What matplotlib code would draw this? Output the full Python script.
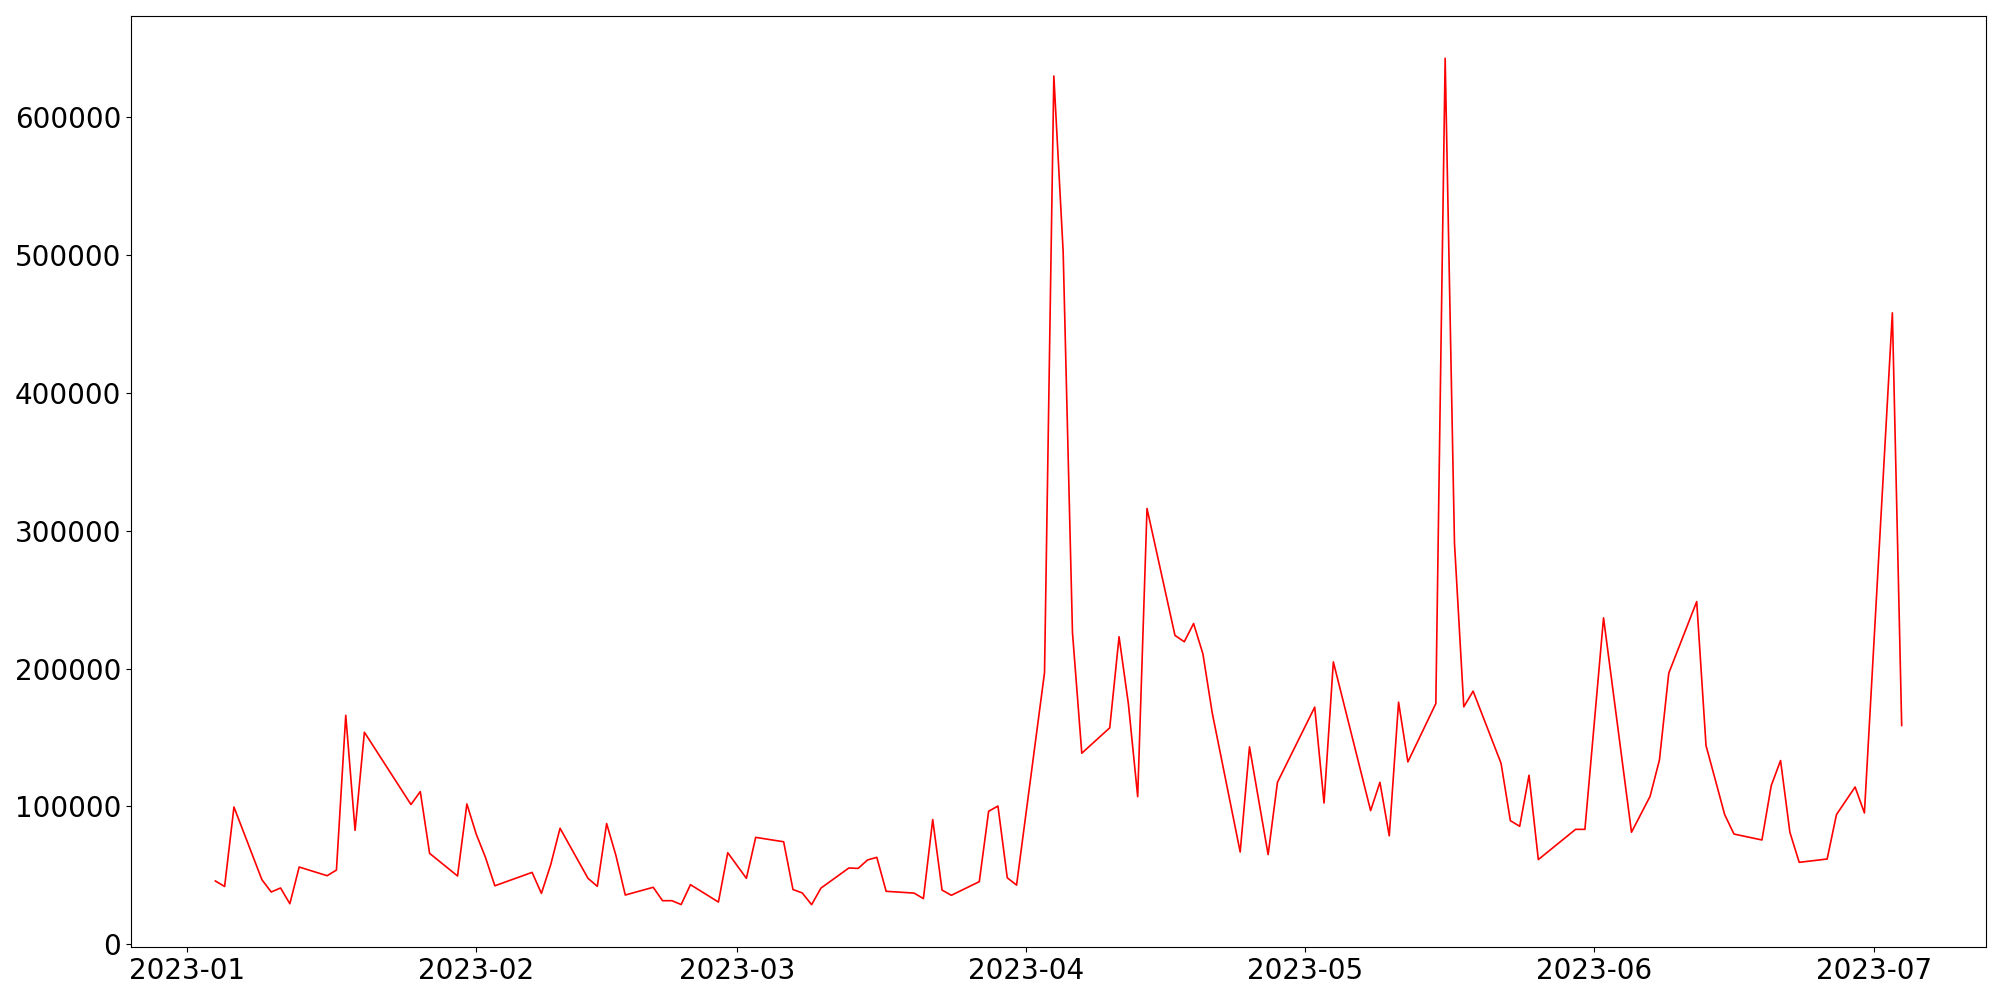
import matplotlib
matplotlib.use("Agg")
import matplotlib.pyplot as plt
import pandas as pd

dates = [
    "2023-01-04", "2023-01-05", "2023-01-06",
    "2023-01-09", "2023-01-10", "2023-01-11", "2023-01-12", "2023-01-13",
    "2023-01-16", "2023-01-17", "2023-01-18", "2023-01-19", "2023-01-20",
    "2023-01-25", "2023-01-26", "2023-01-27",
    "2023-01-30", "2023-01-31", "2023-02-01", "2023-02-02", "2023-02-03",
    "2023-02-07", "2023-02-08", "2023-02-09", "2023-02-10",
    "2023-02-13", "2023-02-14", "2023-02-15", "2023-02-16", "2023-02-17",
    "2023-02-20", "2023-02-21", "2023-02-22", "2023-02-23", "2023-02-24",
    "2023-02-27", "2023-02-28", "2023-03-02", "2023-03-03",
    "2023-03-06", "2023-03-07", "2023-03-08", "2023-03-09", "2023-03-10",
    "2023-03-13", "2023-03-14", "2023-03-15", "2023-03-16", "2023-03-17",
    "2023-03-20", "2023-03-21", "2023-03-22", "2023-03-23", "2023-03-24",
    "2023-03-27", "2023-03-28", "2023-03-29", "2023-03-30", "2023-03-31",
    "2023-04-03", "2023-04-04", "2023-04-05", "2023-04-06", "2023-04-07",
    "2023-04-10", "2023-04-11", "2023-04-12", "2023-04-13", "2023-04-14",
    "2023-04-17", "2023-04-18", "2023-04-19", "2023-04-20", "2023-04-21",
    "2023-04-24", "2023-04-25", "2023-04-26", "2023-04-27", "2023-04-28",
    "2023-05-02", "2023-05-03", "2023-05-04",
    "2023-05-08", "2023-05-09", "2023-05-10", "2023-05-11", "2023-05-12",
    "2023-05-15", "2023-05-16", "2023-05-17", "2023-05-18", "2023-05-19",
    "2023-05-22", "2023-05-23", "2023-05-24", "2023-05-25", "2023-05-26",
    "2023-05-30", "2023-05-31", "2023-06-02",
    "2023-06-05", "2023-06-07", "2023-06-08", "2023-06-09",
    "2023-06-12", "2023-06-13", "2023-06-14", "2023-06-15", "2023-06-16",
    "2023-06-19", "2023-06-20", "2023-06-21", "2023-06-22", "2023-06-23",
    "2023-06-26", "2023-06-27", "2023-06-29", "2023-06-30",
    "2023-07-03", "2023-07-04",
]

values = [
    46000, 42000, 99600,
    46900, 38000, 40900, 29500, 56100,
    49800, 53900, 166100, 82700, 153800,
    101400, 110800, 66000,
    49600, 101800, 80000, 63000, 42500,
    52200, 37000, 57800, 84200,
    47900, 42100, 87600, 64400, 35800,
    41400, 31700, 31700, 28900, 43300,
    30700, 66500, 47900, 77600,
    74400, 39800, 37300, 28800, 40800,
    55400, 55100, 61200, 63100, 38500,
    37200, 33200, 90500, 39400, 35600,
    45500, 96500, 100300, 48300, 43000,
    197000, 629500, 502000, 226000, 138600,
    157000, 223000, 174500, 107100, 316000,
    224000, 219400, 232600, 210600, 167800,
    67000, 143200, 104000, 65100, 117500,
    172000, 102500, 204800,
    97000, 117500, 78700, 175600, 132300,
    174600, 642300, 291000, 172200, 183600,
    131300, 89700, 85600, 122600, 61500,
    83400, 83400, 236700,
    81300, 107400, 133700, 196600,
    248500, 144100, 119200, 94100, 80000,
    75700, 115100, 133300, 81300, 59500,
    61900, 94100, 114100, 95300,
    457800, 158700,
]

x = pd.to_datetime(dates)

fig, ax = plt.subplots(figsize=(20, 10), dpi=100)
fig.subplots_adjust(left=0.0655, right=0.993, top=0.984, bottom=0.053)
ax.plot(x, values, color="red", linewidth=1.2)
ax.tick_params(axis="both", labelsize=20)
fig.savefig("out.png", dpi=100)
